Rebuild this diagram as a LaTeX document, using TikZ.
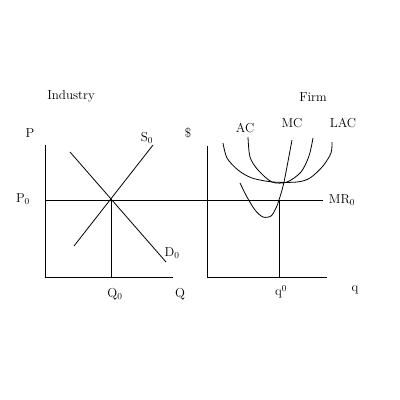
\documentclass[tikz,border=0pt]{standalone}
\usepackage{tikz}
\usetikzlibrary{positioning}

\begin{document}
\begin{tikzpicture}[x=1pt,y=-1pt,line width=0.8pt,
  lbl/.style={font=\fontsize{13}{15}\selectfont}]
\useasboundingbox[fill=white] (0,0) rectangle (400,400);

\coordinate (IT) at (45,145) {};

\coordinate (IO) at (45,277) {};

\coordinate (IR) at (173,277) {};

\coordinate (FT) at (207,146) {};

\coordinate (FO) at (207,277) {};

\coordinate (FR) at (327,277) {};

\coordinate (E) at (111,200) {};

\coordinate (Dtop) at (70,152) {};

\coordinate (Dbot) at (166,262) {};

\coordinate (Sbot) at (74,246) {};

\coordinate (Stop) at (153,145) {};

\coordinate (Pl) at (45,200) {};

\coordinate (Pr) at (323,200) {};

\coordinate (Qb) at (111,277) {};

\coordinate (e) at (279,200) {};

\coordinate (qb) at (279,277) {};

\draw (IT) -- (IO) -- (IR);

\draw (FT) -- (FO) -- (FR);

\draw (Dtop) -- (Dbot);

\draw (Sbot) -- (Stop);

\draw (Pl) -- (Pr);

\draw (E) -- (Qb);

\draw (e) -- (qb);

\draw plot[smooth,tension=0.5] coordinates {(223,143) (227,158) (238,170) (252,178) (273,182) (297,182) (310,178) (323,166) (331,153) (332,142)};

\draw plot[smooth,tension=0.5] coordinates {(248,137) (250,157) (258,170) (272,182) (287,182) (301,172) (309,156) (313,138)};

\draw plot[smooth,tension=0.5] coordinates {(240,183) (247,197) (255,210) (263,217) (271,216) (276,208) (279,200) (284,182) (292,140)};

\node[lbl] (Ind) at (71,96) {Industry};

\node[lbl] (Firm) at (313,97) {Firm};

\node[lbl] (P) at (30,133) {P};

\node[lbl] (Dol) at (188,133) {\$};

\node[lbl] (S0) at (147,138) {S\textsubscript{0}};

\node[lbl] (P0) at (23,199) {P\textsubscript{0}};

\node[lbl] (D0) at (172,253) {D\textsubscript{0}};

\node[lbl] (Q0) at (115,294) {Q\textsubscript{0}};

\node[lbl] (Q) at (180,294) {Q};

\node[lbl] (q0) at (281,292) {q\textsuperscript{0}};

\node[lbl] (q) at (355,290) {q};

\node[lbl] (AC) at (245,128) {AC};

\node[lbl] (MC) at (292,123) {MC};

\node[lbl] (LAC) at (343,123) {LAC};

\node[lbl] (MR0) at (342,200) {MR\textsubscript{0}};
\end{tikzpicture}
\end{document}
